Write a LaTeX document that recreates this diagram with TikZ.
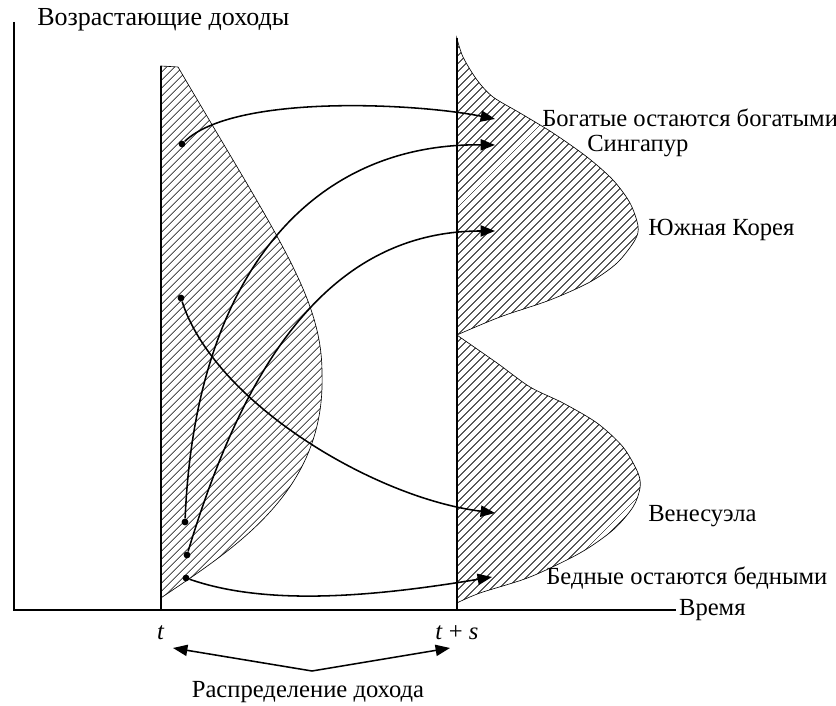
\documentclass[tikz,border=0pt]{standalone}
\usepackage{fontspec}
\setmainfont{Liberation Serif}
\usetikzlibrary{arrows.meta,patterns.meta,positioning,calc}

\begin{document}
\begin{tikzpicture}[
    dot/.style={circle, fill, inner sep=0pt, minimum size=0.17cm},
    flow/.style={line width=1.1pt, -{Triangle[length=0.36cm,width=0.28cm]}},
    lobe/.style={draw, line width=0.45pt, pattern={Lines[angle=45,distance=4pt,line width=0.55pt]}},
    lab/.style={font=\fontsize{17.5}{21}\selectfont, inner sep=0pt}
]
    \useasboundingbox (-0.35,-2.4) rectangle (20.55,15.25);

    % Axes
    \coordinate (O) at (0,0);
    \coordinate (ytop) at (0,14.7);
    \coordinate (xend) at (16.55,0);
    \draw[line width=0.9pt] (ytop) -- (O) -- (xend);
    \node [lab, font=\fontsize{18.5}{21}\selectfont, anchor=west] (yname) at (0.575,14.75) {Возрастающие доходы};
    \node [lab, anchor=west] (xname) at ([xshift=2pt]xend) {Время};

    % Distribution at t
    \draw[lobe] (3.67,0.3) -- (3.67,13.6) -- (4.1,13.575)
        .. controls (6.6,9.3) and (7.7,7.8) .. (7.7,5.925)
        .. controls (7.8,3.0) and (5.6,1.6) .. cycle;
    \coordinate (tbot) at (3.67,0);
    \coordinate (ttop) at (3.67,13.6);
    \draw[line width=1.2pt] (tbot) -- (ttop);
    \node [lab] (tlab) at (3.67,-0.575) {\textit{t}};

    % Distribution at t+s
    \draw[lobe] plot[smooth] coordinates {(11.07,14.3) (11.225,13.825) (11.575,13.25) (11.975,12.825)
        (12.65,12.425) (13.475,11.925) (14.325,11.325) (14.975,10.75) (15.4,10.175) (15.6,9.6)
        (15.525,9.25) (15.075,8.675) (14.4,8.2) (13.4,7.75) (12.15,7.325) (11.07,6.875)} -- cycle;
    \draw[lobe] plot[smooth] coordinates {(11.07,6.875) (12.075,6.175) (12.9,5.575) (13.725,5.175)
        (14.575,4.675) (15.225,4.075) (15.6,3.425) (15.65,3.05) (15.475,2.575) (14.975,2.0)
        (14.15,1.425) (12.9,0.825) (11.65,0.425) (11.07,0.175)} -- cycle;
    \coordinate (sbot) at (11.07,0);
    \coordinate (stop) at (11.07,14.3);
    \draw[line width=1.2pt] (sbot) -- (stop);
    \node [lab] (slab) at (11.075,-0.575) {\textit{t} + \textit{s}};

    % Moves
    \node [dot] (rich0) at (4.2,11.65) {};
    \node [dot] (venez0) at (4.175,7.8) {};
    \node [dot] (sing0) at (4.275,2.2) {};
    \node [dot] (korea0) at (4.325,1.375) {};
    \node [dot] (poor0) at (4.3,0.8) {};
    \coordinate (rich1) at (12.025,12.275);
    \coordinate (sing1) at (12.025,11.625);
    \coordinate (korea1) at (12.025,9.475);
    \coordinate (venez1) at (12.025,2.425);
    \coordinate (poor1) at (11.95,0.825);
    \draw[flow] (rich0) .. controls +(1.3,1.25) and +(-2.0,0.4) .. (rich1);
    \draw[flow] (sing0) .. controls +(0.25,6.1) and +(-4.65,0.05) .. (sing1);
    \draw[flow] (korea0) .. controls +(1.3,4.3) and +(-4.4,0) .. (korea1);
    \draw[flow] (venez0) .. controls +(0.825,-2.6) and +(-3.025,0.375) .. (venez1);
    \draw[flow] (poor0) .. controls +(2,-0.7) and +(-3,-0.5) .. (poor1);

    % Labels right
    \node [lab, anchor=west] (richlab) at (13.2,12.3) {Богатые остаются богатыми};
    \node [lab, anchor=west] (singlab) at (14.325,11.6) {Сингапур};
    \node [lab, anchor=west] (korealab) at (15.85,9.5) {Южная Корея};
    \node [lab, anchor=west] (venezlab) at (15.85,2.35) {Венесуэла};
    \node [lab, anchor=west] (poorlab) at (13.3,0.8) {Бедные остаются бедными};

    % Distribution label
    \node [lab] (dist) at (7.35,-2.05) {Распределение дохода};
    \coordinate (mid) at (7.45,-1.525);
    \coordinate (left) at (3.975,-0.95);
    \coordinate (right) at (10.9,-0.95);
    \draw[line width=1.1pt, {Triangle[length=0.36cm,width=0.28cm]}-{Triangle[length=0.36cm,width=0.28cm]}] (left) -- (mid) -- (right);
\end{tikzpicture}
\end{document}
